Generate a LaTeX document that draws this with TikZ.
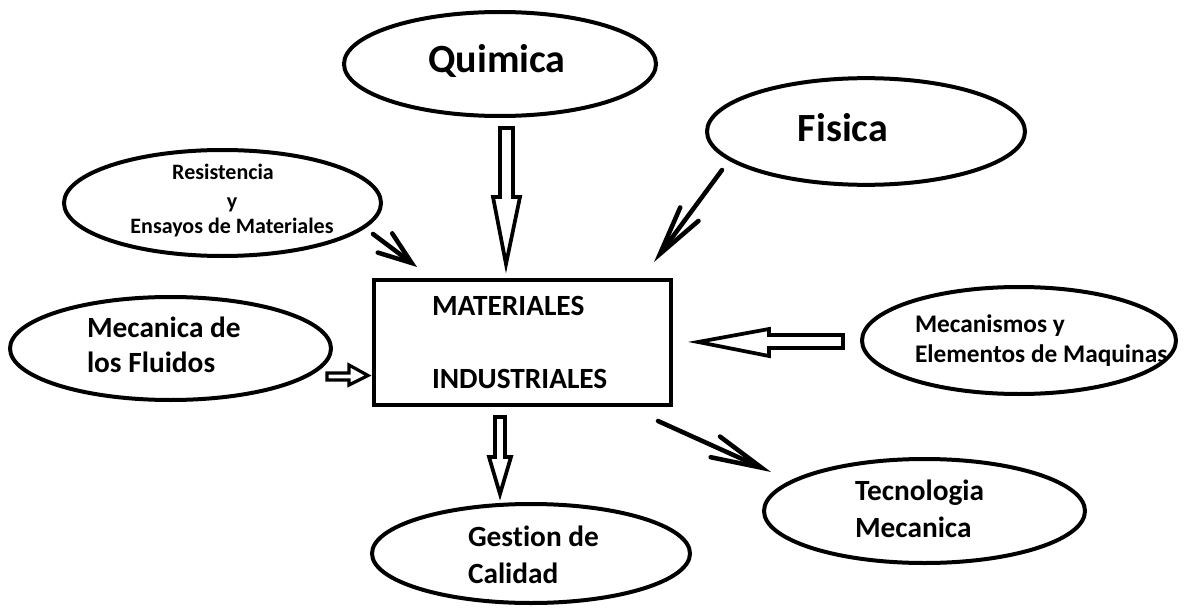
\documentclass[tikz,border=0pt]{standalone}
\usepackage{fontspec}
\setmainfont{Carlito}[Ligatures={NoCommon}]
\usetikzlibrary{shapes.geometric,arrows.meta}
\tikzset{
  oval/.style={draw, ellipse, line width=3pt, inner sep=0pt, outer sep=0pt},
  box/.style={draw, rectangle, line width=3pt, inner sep=0pt, outer sep=0pt},
  blockarrow/.style={draw, line width=2.8pt, line join=miter, fill=white},
  linearrow/.style={draw, line width=3.4pt, line cap=round},
  lbl/.style={inner sep=0pt, outer sep=0pt, font=\bfseries\fontsize{22}{26}\selectfont},
  big/.style={lbl, font=\bfseries\fontsize{30}{36}\selectfont},
  small/.style={lbl, font=\bfseries\fontsize{16.5}{20}\selectfont},
  mid/.style={lbl, font=\bfseries\fontsize{19}{23}\selectfont}
}
\begin{document}
\begin{tikzpicture}[x=0.75pt,y=-0.75pt]
\useasboundingbox (0,0) rectangle (1200,610);
\fill[white] (0,0) rectangle (1200,610);

% ovals
\node[oval, minimum width=234pt, minimum height=78pt] (quim) at (500,64) {};
\node[oval, minimum width=238.5pt, minimum height=80pt] (fis) at (866,131.5) {};
\node[oval, minimum width=237.75pt, minimum height=79.5pt] (res) at (222.5,203) {};
\node[oval, minimum width=240.75pt, minimum height=77.25pt] (flu) at (170.5,348.5) {};
\node[oval, minimum width=235.5pt, minimum height=80.25pt] (mec) at (1019,340.5) {};
\node[oval, minimum width=240.75pt, minimum height=78pt] (tec) at (924.5,511) {};
\node[oval, minimum width=238.5pt, minimum height=74.25pt] (ges) at (531,553.5) {};
\node[box, minimum width=222.75pt, minimum height=93.75pt] (mat) at (522.5,342.5) {};

% texts
\node[big, anchor=base] (tquim) at (497,73) {Quimica};
\node[big, anchor=base] (tfis) at (843,142) {Fisica};
\node[small, anchor=base] (tres1) at (223,179) {Resistencia};
\node[small, anchor=base] (tres2) at (232,208) {y};
\node[small, anchor=base] (tres3) at (232,233) {Ensayos de Materiales};
\node[lbl, anchor=base west] (tflu1) at (87,337) {Mecanica de};
\node[lbl, anchor=base west] (tflu2) at (87,372) {los Fluidos};
\node[lbl, anchor=base west] (tmat1) at (432,315) {MATERIALES};
\node[lbl, anchor=base west] (tmat2) at (432,388) {INDUSTRIALES};
\node[mid, anchor=base west] (tmec1) at (915,332) {Mecanismos y};
\node[mid, anchor=base west] (tmec2) at (915,362) {Elementos de Maquinas};
\node[lbl, anchor=base west] (ttec1) at (855,500) {Tecnologia};
\node[lbl, anchor=base west] (ttec2) at (855,537) {Mecanica};
\node[lbl, anchor=base west] (tges1) at (468,546) {Gestion de};
\node[lbl, anchor=base west] (tges2) at (468,583) {Calidad};

% block arrows
\draw[blockarrow] (500,128) -- (513,128) -- (513,197) -- (520,197) -- (506,264) -- (493,197) -- (500,197) -- cycle;
\draw[blockarrow] (843,335) -- (769,335) -- (769,329) -- (698,342) -- (769,356) -- (769,348) -- (843,348) -- cycle;
\draw[blockarrow, line width=2.4pt] (327,373) -- (349,373) -- (349,365) -- (368,375.5) -- (349,385) -- (349,380) -- (327,380) -- cycle;
\draw[blockarrow] (495,417) -- (505,417) -- (505,457) -- (511,457) -- (500,494) -- (489,457) -- (495,457) -- cycle;

% line arrows
\coordinate (fisA) at (722,170);
\coordinate (fisB) at (654,262);
\coordinate (resA) at (373,234);
\coordinate (resB) at (417,267);
\coordinate (tecA) at (658,421);
\coordinate (tecB) at (771,472);
\draw[linearrow, -{Straight Barb[length=37pt,width=17pt,line cap=round]}] (fisA) -- (fisB);
\draw[linearrow, -{Straight Barb[length=25pt,width=18pt,line cap=round]}] (resA) -- (resB);
\draw[linearrow, -{Straight Barb[length=38pt,width=17pt,line cap=round]}] (tecA) -- (tecB);
\end{tikzpicture}
\end{document}
